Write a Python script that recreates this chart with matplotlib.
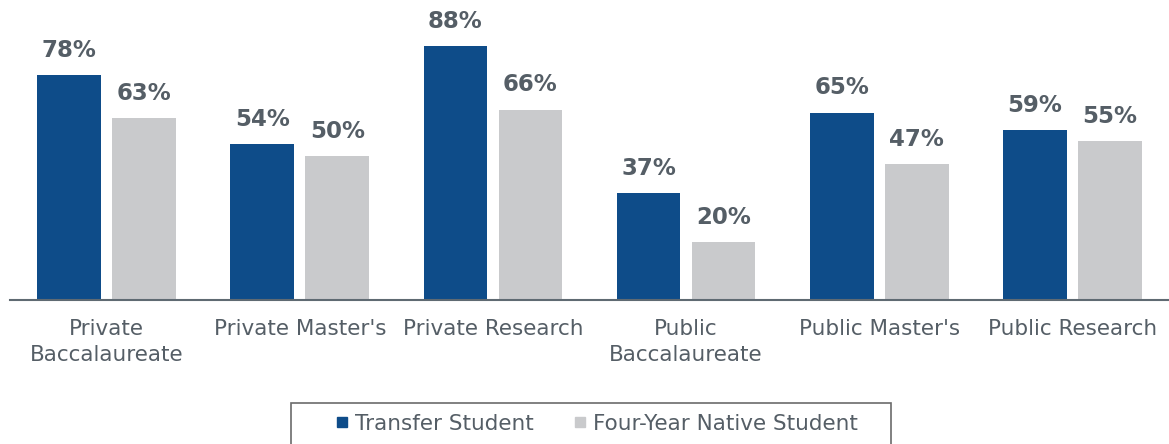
import matplotlib
matplotlib.use("Agg")
import matplotlib.pyplot as plt
from matplotlib.lines import Line2D
from matplotlib.patches import Rectangle
import numpy as np

categories = ["Private\nBaccalaureate", "Private Master's", "Private Research",
              "Public\nBaccalaureate", "Public Master's", "Public Research"]
transfer = [78, 54, 88, 37, 65, 59]
native = [63, 50, 66, 20, 47, 55]
series_names = ["Transfer Student", "Four-Year Native Student"]

navy = "#0E4C89"
gray = "#C9CACC"
text_col = "#555E66"

W, H = 1169, 444
fig = plt.figure(figsize=(W/100, H/100), dpi=100)
ax = fig.add_axes([10/W, 144/H, 1159/W, 300/H])

x = np.arange(len(categories))
w = 0.33
off = 0.194
b1 = ax.bar(x - off, transfer, w, color=navy)
b2 = ax.bar(x + off, native, w, color=gray)

for bars, vals in ((b1, transfer), (b2, native)):
    for r, v in zip(bars, vals):
        ax.annotate(f"{v}%", (r.get_x() + r.get_width()/2, v), xytext=(0, 9.5),
                    textcoords="offset points", ha="center", va="bottom",
                    fontsize=16.5, fontweight="bold", color=text_col)

ax.set_xlim(-0.5, 5.5)
ax.set_ylim(0, 104)
ax.set_yticks([])
ax.set_xticks(x)
ax.set_xticklabels(categories, fontsize=15.5, color=text_col, linespacing=1.35)
ax.tick_params(axis="x", length=0, pad=14)
for s in ("top", "right", "left"):
    ax.spines[s].set_visible(False)
ax.spines["bottom"].set_color("#5f6a72")
ax.spines["bottom"].set_linewidth(1.5)

handles = [Line2D([], [], marker="s", linestyle="none", markersize=7, color=navy),
           Line2D([], [], marker="s", linestyle="none", markersize=7, color=gray)]
leg = fig.legend(handles, series_names, loc="center", ncol=2,
                 bbox_to_anchor=(597/W, 1 - 424/H), frameon=False,
                 fontsize=15.5, handlelength=0.5, handletextpad=0.35, columnspacing=1.9,
                 borderpad=0.0, borderaxespad=0)
for t in leg.get_texts():
    t.set_color(text_col)

frame = Rectangle((291/W, -10/H), 600/W, (H - 403 + 10)/H, transform=fig.transFigure,
                  facecolor="none", edgecolor="#6b6b6b", linewidth=1.2)
fig.patches.append(frame)

fig.savefig("out.png", dpi=100)
